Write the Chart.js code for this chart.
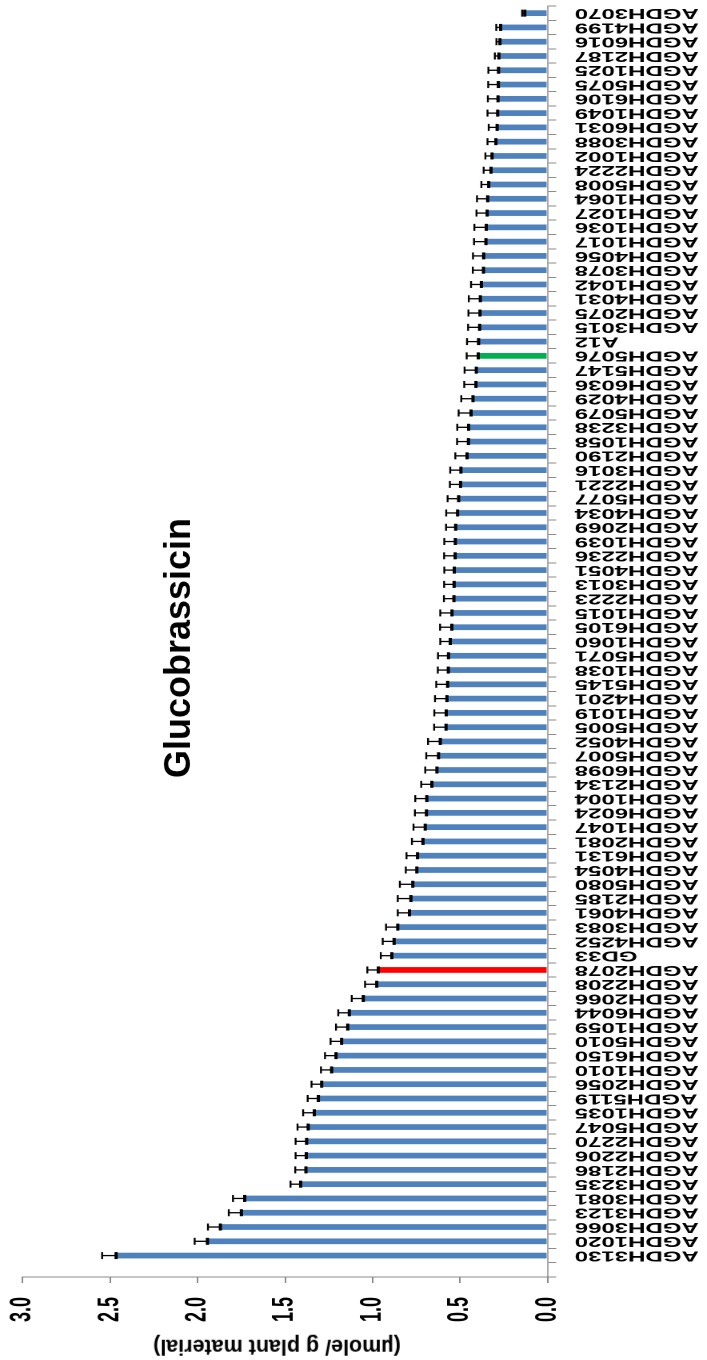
<!DOCTYPE html>
<html>
<head>
<meta charset="utf-8">
<script src="https://cdn.jsdelivr.net/npm/chart.js@4.4.1/dist/chart.umd.min.js"></script>
<style>
  html, body { margin: 0; padding: 0; background: #fff; }
  #page { position: relative; width: 707px; height: 1360px; overflow: hidden; background: #fff; }
  /* the column chart is laid out lying on its side: rotated a quarter turn and widened across */
  #frame { position: absolute; left: 0; top: 0; width: 1360px; height: 442px;
           transform-origin: 0 0; transform: translate(0px, 1360px) scaleX(1.5995) rotate(-90deg); }
  .label { position: absolute; white-space: nowrap; color: #000; line-height: 1;
           font-family: "Liberation Sans", Arial, sans-serif; font-weight: bold; }
  #heading { left: 177px; top: 648px; font-size: 36px;
             transform: translate(-50%, -50%) scaleX(1.05) rotate(-90deg); }
  #unit { left: 277px; top: 1346px; font-size: 21.5px;
          transform: translate(-50%, -50%) rotate(180deg); }
</style>
</head>
<body>
<div id="page">
  <div id="frame"><canvas id="chart" width="1360" height="442"></canvas></div>
  <div id="heading" class="label">Glucobrassicin</div>
  <div id="unit" class="label">(µmole/ g  plant material)</div>
</div>
<script>
// A blank slot opens the axis, then lines from highest glucobrassicin content down
const categories = [
  '',
  'AGDH3130','AGDH1020','AGDH3066','AGDH3123','AGDH3081','AGDH3235','AGDH2186','AGDH2206',
  'AGDH2270','AGDH5047','AGDH1035','AGDH5119','AGDH2056','AGDH1010','AGDH6150','AGDH5010',
  'AGDH1059','AGDH6044','AGDH2066','AGDH2208','AGDH2078','GD33','AGDH4252','AGDH3083',
  'AGDH4061','AGDH2185','AGDH5080','AGDH4054','AGDH6131','AGDH2081','AGDH1047','AGDH6024',
  'AGDH1004','AGDH2134','AGDH6098','AGDH5007','AGDH4052','AGDH5005','AGDH1019','AGDH4201',
  'AGDH5145','AGDH1038','AGDH5071','AGDH1060','AGDH6105','AGDH1015','AGDH2223','AGDH3013',
  'AGDH4051','AGDH2236','AGDH1039','AGDH2069','AGDH4034','AGDH5077','AGDH2221','AGDH3016',
  'AGDH2190','AGDH1058','AGDH3238','AGDH5079','AGDH4029','AGDH6036','AGDH5147','AGDH5076',
  'A12','AGDH3015','AGDH2075','AGDH4031','AGDH1042','AGDH3078','AGDH4056','AGDH1017',
  'AGDH1036','AGDH1027','AGDH1064','AGDH5008','AGDH2224','AGDH1002','AGDH3088','AGDH6031',
  'AGDH1049','AGDH6106','AGDH5075','AGDH1025','AGDH2187','AGDH6016','AGDH4199','AGDH3070'
];

// Mean content, µmole per g plant material
const values = [
  null,
  2.466, 1.944, 1.870, 1.750, 1.731, 1.411, 1.381, 1.379,
  1.377, 1.368, 1.333, 1.310, 1.291, 1.234, 1.209, 1.177,
  1.142, 1.133, 1.053, 0.976, 0.967, 0.890, 0.877, 0.856,
  0.789, 0.781, 0.770, 0.747, 0.743, 0.712, 0.699, 0.692,
  0.690, 0.661, 0.632, 0.623, 0.613, 0.580, 0.579, 0.575,
  0.571, 0.567, 0.566, 0.556, 0.547, 0.546, 0.535, 0.534,
  0.533, 0.528, 0.527, 0.525, 0.514, 0.508, 0.497, 0.495,
  0.460, 0.452, 0.451, 0.437, 0.426, 0.409, 0.407, 0.396,
  0.394, 0.388, 0.386, 0.384, 0.378, 0.366, 0.365, 0.352,
  0.350, 0.345, 0.342, 0.336, 0.323, 0.317, 0.295, 0.288,
  0.285, 0.283, 0.281, 0.280, 0.278, 0.272, 0.268, 0.130
];

// Standard error of each mean
const errors = [
  null,
  0.080, 0.073, 0.071, 0.072, 0.067, 0.058, 0.061, 0.061,
  0.063, 0.061, 0.064, 0.061, 0.058, 0.061, 0.063, 0.063,
  0.067, 0.063, 0.066, 0.067, 0.063, 0.063, 0.065, 0.067,
  0.067, 0.075, 0.074, 0.063, 0.063, 0.063, 0.067, 0.066,
  0.066, 0.061, 0.067, 0.070, 0.070, 0.068, 0.068, 0.068,
  0.065, 0.060, 0.060, 0.057, 0.067, 0.067, 0.057, 0.057,
  0.057, 0.063, 0.063, 0.055, 0.065, 0.063, 0.061, 0.061,
  0.067, 0.065, 0.065, 0.071, 0.067, 0.067, 0.067, 0.066,
  0.066, 0.066, 0.066, 0.066, 0.059, 0.061, 0.061, 0.068,
  0.068, 0.061, 0.061, 0.042, 0.042, 0.038, 0.048, 0.048,
  0.058, 0.058, 0.058, 0.058, 0.023, 0.020, 0.025, 0.015
];

const valueTickLabels = ['0.0', '0.5', '1.0', '1.5', '2.0', '2.5', '3.0'];

// Reference lines picked out in their own colour
const highlight = { 'AGDH2078': '#ff0000', 'AGDH5076': '#00b050' };
const barBlue = '#4f81bd';
const axisGrey = '#8c8c8c';

const errorBars = {
  id: 'errorBars',
  afterDatasetsDraw(chart) {
    const ctx = chart.ctx;
    const yScale = chart.scales.y;
    const meta = chart.getDatasetMeta(0);
    ctx.save();
    ctx.strokeStyle = '#000';
    meta.data.forEach((bar, i) => {
      const v = values[i], e = errors[i];
      if (v == null || e == null) return;
      const x = bar.x;
      const yMean = yScale.getPixelForValue(v);
      const yTop = yScale.getPixelForValue(v + e);
      ctx.lineWidth = 1.3;
      ctx.beginPath(); ctx.moveTo(x, yMean); ctx.lineTo(x, yTop); ctx.stroke();
      ctx.lineWidth = 1.2;
      ctx.beginPath(); ctx.moveTo(x - 3.5, yTop); ctx.lineTo(x + 3.5, yTop); ctx.stroke();
      ctx.lineWidth = 2;
      ctx.beginPath(); ctx.moveTo(x - 3.5, yMean); ctx.lineTo(x + 3.5, yMean); ctx.stroke();
    });
    ctx.restore();
  }
};

Chart.defaults.font.family = '"Liberation Sans", Arial, sans-serif';

new Chart(document.getElementById('chart'), {
  type: 'bar',
  data: {
    labels: categories,
    datasets: [{
      data: values,
      backgroundColor: categories.map(c => highlight[c] || barBlue),
      borderWidth: 0,
      barPercentage: 0.4,
      categoryPercentage: 1.0
    }]
  },
  options: {
    responsive: false,
    animation: false,
    devicePixelRatio: 2,
    layout: { padding: { top: 0, right: 6, left: 0, bottom: 0 } },
    plugins: { legend: { display: false }, tooltip: { enabled: false } },
    scales: {
      x: {
        type: 'category',
        grid: { offset: true, drawOnChartArea: false, tickLength: 5.5, color: axisGrey, lineWidth: 1 },
        border: { display: true, color: axisGrey, width: 0.8 },
        ticks: {
          autoSkip: false, minRotation: 90, maxRotation: 90, padding: 11.5,
          color: '#000', font: { size: 15, weight: 'bold' }
        },
        afterFit(scale) { scale.height = 99.7; scale.paddingLeft = 0; scale.paddingRight = 0; }
      },
      y: {
        min: 0, max: 3,
        ticks: {
          stepSize: 0.5, padding: 14, color: '#000', font: { size: 18, weight: 'bold' },
          callback: (v) => valueTickLabels[Math.round(v / 0.5)]
        },
        grid: { drawOnChartArea: false, tickLength: 6, color: axisGrey },
        border: { display: true, color: axisGrey, width: 1 },
        afterFit(scale) { scale.width = 83; scale.paddingTop = 14.2; scale.paddingBottom = 0; }
      }
    }
  },
  plugins: [errorBars]
});
</script>
</body>
</html>
